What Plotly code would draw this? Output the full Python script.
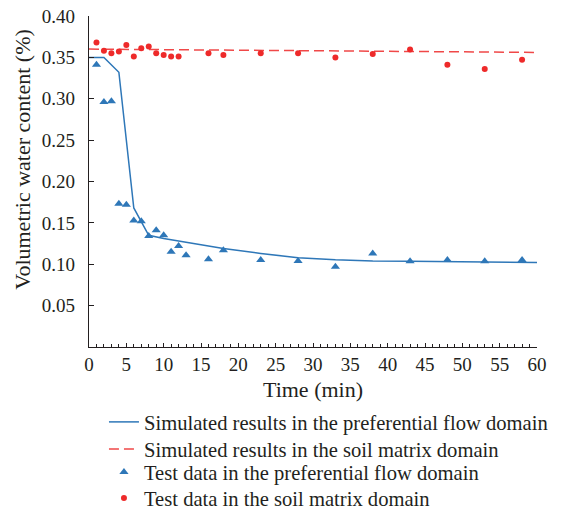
import plotly.graph_objects as go

# Simulated results (line curves)
sim_pf_time = [0, 2, 4, 6, 8, 10, 14, 18, 23, 28, 33, 38, 43, 48, 53, 60]
sim_pf_vwc = [0.350, 0.350, 0.332, 0.168, 0.135, 0.131, 0.125, 0.119, 0.113, 0.108,
              0.1055, 0.104, 0.1035, 0.103, 0.1025, 0.102]
sim_sm_time = [0, 60]
sim_sm_vwc = [0.360, 0.356]

# Test data
test_pf_time = [1, 2, 3, 4, 5, 6, 7, 8, 9, 10, 11, 12, 13, 16, 18, 23, 28, 33, 38, 43, 48, 53, 58]
test_pf_vwc = [0.341, 0.296, 0.297, 0.173, 0.172, 0.153, 0.152, 0.134, 0.141, 0.135, 0.115,
               0.122, 0.111, 0.106, 0.117, 0.105, 0.104, 0.097, 0.113, 0.1035, 0.105, 0.1035, 0.105]
test_sm_time = [1, 2, 3, 4, 5, 6, 7, 8, 9, 10, 11, 12, 16, 18, 23, 28, 33, 38, 43, 48, 53, 58]
test_sm_vwc = [0.368, 0.358, 0.355, 0.357, 0.365, 0.351, 0.361, 0.363, 0.355, 0.353, 0.351,
               0.351, 0.355, 0.353, 0.355, 0.355, 0.350, 0.354, 0.3595, 0.341, 0.336, 0.347]

x_ticks = list(range(0, 61, 5))
y_ticks = [0.05, 0.10, 0.15, 0.20, 0.25, 0.30, 0.35, 0.40]
y_labels = ["0.05", "0.10", "0.15", "0.20", "0.25", "0.30", "0.35", "0.40"]

BLUE = "#2e77b8"
RED = "#ee2a2a"
RED_LINE = "#f04848"
AX = "#231f20"
FONT = "Liberation Serif"

W, H = 557, 505  # page body has an 8px margin in the 565x513 window

fig = go.Figure()
fig.add_trace(go.Scatter(x=sim_pf_time, y=sim_pf_vwc, mode="lines",
                         line=dict(color=BLUE, width=1.5), legend="legend",
                         name="Simulated results in the preferential flow domain"))
fig.add_trace(go.Scatter(x=sim_sm_time, y=sim_sm_vwc, mode="lines",
                         line=dict(color=RED_LINE, width=1.5, dash="10px,5px"), legend="legend2",
                         name="Simulated results in the soil matrix domain"))
fig.add_trace(go.Scatter(x=test_pf_time, y=test_pf_vwc, mode="markers",
                         marker=dict(symbol="triangle-up", color=BLUE, size=8), legend="legend3",
                         name="Test data in the preferential flow domain"))
fig.add_trace(go.Scatter(x=test_sm_time, y=test_sm_vwc, mode="markers",
                         marker=dict(symbol="circle", color=RED, size=6), legend="legend4",
                         name="Test data in the soil matrix domain"))


def leg(center_px):
    return dict(x=0.0334, xref="paper", y=(H - center_px) / H, yref="container",
                xanchor="left", yanchor="middle",
                font=dict(family=FONT, size=20.6, color=AX),
                itemwidth=30, bgcolor="rgba(0,0,0,0)")


fig.update_layout(
    width=W, height=H,
    margin=dict(l=81, r=28, t=8, b=166, autoexpand=False),
    paper_bgcolor="white", plot_bgcolor="white",
    font=dict(family=FONT, size=18, color=AX),
    showlegend=True,
    legend=leg(414), legend2=leg(441), legend3=leg(464), legend4=leg(490),
    xaxis=dict(range=[0, 60], tickvals=x_ticks, ticks="inside", ticklen=4,
               tickcolor=AX, showline=True, linecolor=AX, linewidth=1.2,
               showgrid=False, zeroline=False, automargin=False,
               ticklabeloverflow="allow",
               minor=dict(dtick=1, ticks="inside", ticklen=2.5, tickcolor=AX),
               title=dict(text="Time (min)", standoff=12,
                          font=dict(family=FONT, size=22, color=AX)),
               tickfont=dict(family=FONT, size=19, color=AX)),
    yaxis=dict(range=[0, 0.40], tickvals=y_ticks, ticktext=y_labels, ticks="inside",
               ticklen=5, tickcolor=AX, showline=True, linecolor=AX, linewidth=1.2,
               showgrid=False, zeroline=False, automargin=False,
               ticklabelstandoff=9, ticklabeloverflow="allow",
               tickfont=dict(family=FONT, size=19, color=AX)),
    annotations=[dict(text="Volumetric water content (%)", textangle=-90,
                      xref="paper", yref="paper", x=(15 - 81) / 448, y=0.566,
                      xanchor="center", yanchor="middle", showarrow=False,
                      font=dict(family=FONT, size=22, color=AX))],
)

fig.write_html("out.html")
